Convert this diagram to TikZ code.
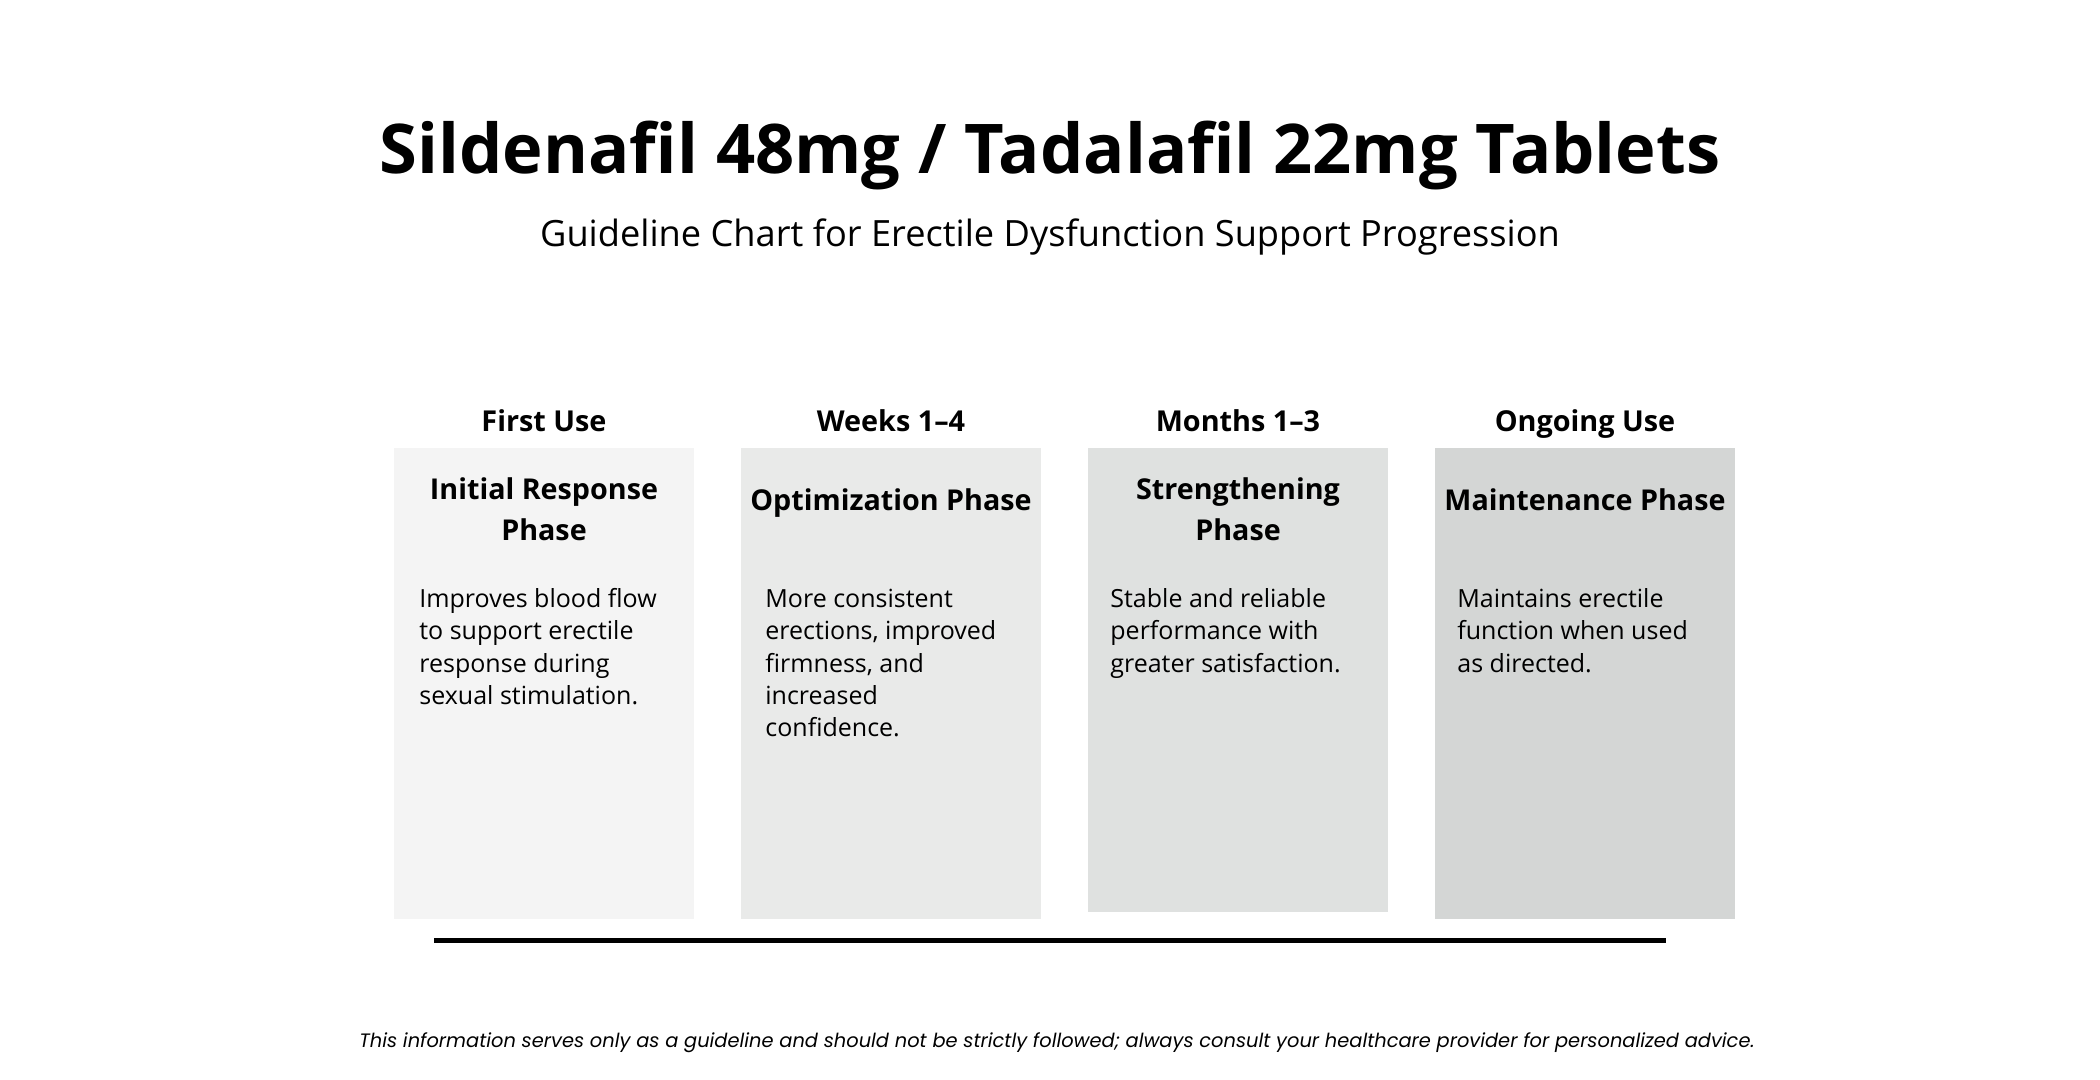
\documentclass[tikz,border=0pt]{standalone}
\usepackage{fontspec}
\setmainfont{Open Sans}
\newfontfamily\footfont{Poppins}
\definecolor{boxA}{HTML}{F4F4F4}
\definecolor{boxB}{HTML}{E9EAE9}
\definecolor{boxC}{HTML}{DFE1E0}
\definecolor{boxD}{HTML}{D4D6D5}
\newcommand\leftlines[1]{\vtop{\baselineskip=16.25pt\halign{##\hfil\cr#1\crcr}}}
\newcommand\midlines[1]{\vtop{\baselineskip=20.5pt\halign{\hfil##\hfil\cr#1\crcr}}}
\tikzset{
  panel/.style={draw=none, inner sep=0pt, minimum width=150pt, anchor=north west},
  titletext/.style={anchor=base, inner sep=0pt, font=\bfseries\fontsize{34.3}{40}\selectfont},
  subtext/.style={anchor=base, inner sep=0pt, font=\fontsize{18.1}{22}\selectfont},
  headtext/.style={anchor=base, inner sep=0pt, font=\bfseries\fontsize{14.4}{17}\selectfont},
  phasetext/.style={anchor=base, inner sep=0pt, font=\bfseries\fontsize{14.35}{17}\selectfont},
  bodytext/.style={anchor=base west, inner sep=0pt, font=\fontsize{12.5}{16.25}\selectfont},
  foottext/.style={anchor=base, inner sep=0pt, font=\footfont\itshape\fontsize{9.7}{12}\selectfont},
}
\begin{document}
\begin{tikzpicture}[x=0.5pt,y=-0.5pt]
\useasboundingbox[fill=white] (0,0) rectangle (2100,1080);

\node[titletext] (title) at (1050,174) {Sildenafil 48mg / Tadalafil 22mg Tablets};
\node[subtext] (subtitle) at (1050,247) {Guideline Chart for Erectile Dysfunction Support Progression};

% panels
\node[panel, fill=boxA, minimum height=235.5pt] (p1) at (394,448) {};
\node[panel, fill=boxB, minimum height=235.5pt] (p2) at (741,448) {};
\node[panel, fill=boxC, minimum height=232pt] (p3) at (1088,448) {};
\node[panel, fill=boxD, minimum height=235.5pt] (p4) at (1435,448) {};

% headings
\node[headtext] (h1) at (544,432) {First Use};
\node[headtext] (h2) at (891,432) {Weeks 1–4};
\node[headtext] (h3) at (1238,432) {Months 1–3};
\node[headtext] (h4) at (1585,432) {Ongoing Use};

% phase titles
\node[phasetext] (t1) at (544,500) {\midlines{Initial Response\cr Phase}};
\node[phasetext] (t2) at (891,510) {Optimization Phase};
\node[phasetext] (t3) at (1238,500) {\midlines{Strengthening\cr Phase}};
\node[phasetext] (t4) at (1585,510) {Maintenance Phase};

% body texts
\node[bodytext] (d1) at (419,607) {\leftlines{Improves blood flow\cr to support erectile\cr response during\cr sexual stimulation.}};
\node[bodytext] (d2) at (765,607) {\leftlines{More consistent\cr erections, improved\cr firmness, and\cr increased\cr confidence.}};
\node[bodytext] (d3) at (1110,607) {\leftlines{Stable and reliable\cr performance with\cr greater satisfaction.}};
\node[bodytext] (d4) at (1457,607) {\leftlines{Maintains erectile\cr function when used\cr as directed.}};

% timeline rule
\coordinate (ruleL) at (434,940);
\coordinate (ruleR) at (1666,940);
\draw[line width=2.5pt, black] (ruleL) -- (ruleR);

\node[foottext] (foot) at (1057,1047) {This information serves only as a guideline and should not be strictly followed; always consult your healthcare provider for personalized advice.};
\end{tikzpicture}
\end{document}
